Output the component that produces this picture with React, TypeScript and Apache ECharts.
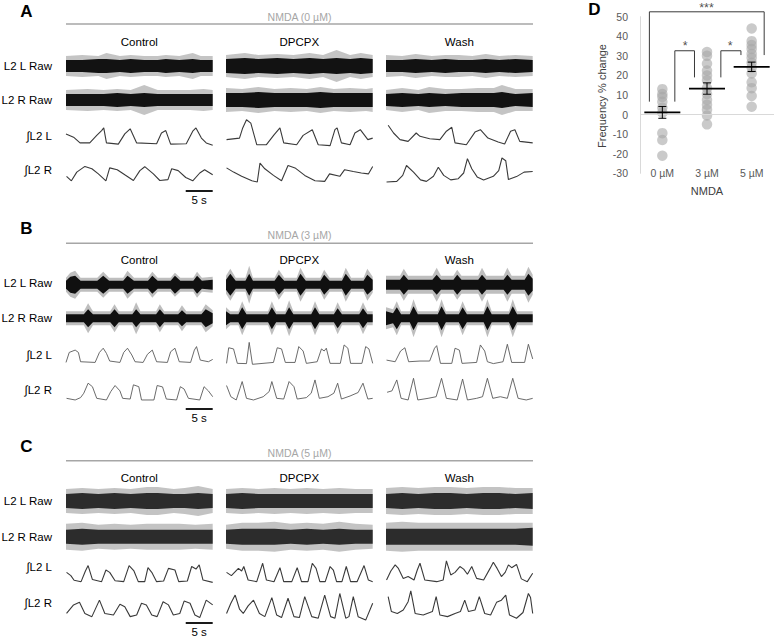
import React, { useEffect, useRef } from 'react';
import * as echarts from 'echarts';

// ---------------- DATA ----------------
const CONDITIONS = ['Control', 'DPCPX', 'Wash'];
const ROW_LABELS = ['L2 L Raw', 'L2 R Raw', '∫L2 L', '∫L2 R'];
const NMDA_TITLES = ['NMDA (0 µM)', 'NMDA (3 µM)', 'NMDA (5 µM)'];
const PANEL_LETTERS = ['A', 'B', 'C'];
const TRACE_SECONDS = 27.2;
const SCALE_BAR_SECONDS = 5;
const SCALE_BAR_LABEL = '5 s';

// Raw envelopes: [time s, core half-amplitude, spike half-amplitude] (a.u.)
const A_CTRL_RL = [[0,6,10],[3,6,11],[6,7,10],[7.5,7,13],[10,6,10],[12,7,11],[14.5,6,10],[17,6,10],[18.5,7,11],[21,6,10],[23.5,7,13],[25,6,10],[27.2,6,10]];
const A_DPCPX_RL = [[0,7,11],[3.5,8,13],[6,7,11],[9.5,8,12],[12.5,7,11],[15.5,8,13],[18,7,11],[20.5,8,16],[23,7,11],[25,8,13],[27.2,7,11]];
const A_WASH_RL = [[0,6,11],[3,6,10],[5.5,7,12],[8.5,6,10],[11,7,11],[13.5,6,11],[16,6,10],[18.5,7,12],[21,6,10],[24,7,11],[27.2,6,10]];
const A_CTRL_RR = [[0,6,10],[4,6,11],[7,6,10],[9.5,7,11],[12,6,10],[14.5,7,15],[17,6,10],[20,6,10],[23,6,10],[25.5,6,11],[27.2,6,10]];
const A_DPCPX_RR = [[0,7,12],[3,7,11],[6,8,13],[9,7,11],[12,7,12],[15,7,11],[17.5,8,13],[20,7,11],[23,7,12],[26,7,11],[27.2,7,12]];
const A_WASH_RR = [[0,6,10],[3,7,12],[6,6,10],[8,7,13],[11,6,11],[14,7,11],[17,7,12],[20,7,12],[21.5,8,15],[24,6,11],[27.2,7,11]];

const B_CTRL_RL = [[0,4,7],[0.8,8,12],[1.7,9,14],[2.7,4,7],[5.8,4,7],[6.9,9,13],[8,4,7],[10.6,4,7],[11.4,9,14],[12.6,4,7],[15.2,4,7],[16,9,13],[17,4,7],[19.4,4,7],[20.2,9,12],[21.2,4,7],[23.6,4,7],[24.3,9,13],[25.2,4,7],[27.2,5,8]];
const B_DPCPX_RL = [[0,5,9],[0.8,11,16],[1.8,4,7],[3.6,4,7],[4.3,11,19],[5,4,7],[9,4,7],[9.8,10,15],[10.8,4,7],[13.1,4,7],[13.8,11,17],[14.8,4,7],[17.5,4,7],[18.2,10,15],[19.2,4,7],[21.5,4,7],[22.2,11,17],[23.2,4,7],[25.5,4,7],[26.2,10,16],[27.2,5,8]];
const B_WASH_RL = [[0,5,9],[2.6,5,9],[3.3,10,16],[4.1,5,9],[8.6,5,9],[9.4,10,17],[10.2,5,9],[12.5,5,9],[13.2,10,15],[14,5,9],[17.1,5,9],[17.8,10,17],[18.6,5,9],[21.8,5,9],[22.5,10,17],[23.3,5,9],[25.7,5,9],[26.4,11,18],[27.2,6,10]];
const B_CTRL_RR = [[0,4,7],[3.3,4,7],[4.1,9,15],[5,4,7],[8.2,4,7],[9,9,14],[9.8,4,7],[12.3,4,7],[13,9,16],[13.8,4,7],[16.7,4,7],[17.4,9,14],[18.2,4,7],[20.8,4,7],[21.5,8,13],[22.3,4,7],[25.1,4,7],[25.9,9,14],[27.2,5,8]];
const B_DPCPX_RR = [[0,7,11],[0.8,4,7],[2.3,4,7],[3,11,17],[3.8,4,7],[7.8,4,7],[8.5,11,17],[9.3,4,7],[11,4,7],[11.7,11,18],[12.5,4,7],[15.8,4,7],[16.5,11,17],[17.3,4,7],[20,4,7],[20.7,10,16],[21.5,4,7],[24.7,4,7],[25.4,10,16],[26.2,4,7],[27.2,4,7]];
const B_WASH_RR = [[0,7,11],[1.3,5,9],[2,11,17],[2.8,4,7],[4.4,4,7],[5.1,12,19],[5.9,4,7],[9.6,4,7],[10.3,12,19],[11.1,4,7],[13.5,4,7],[14.2,11,17],[15,4,7],[18.1,4,7],[18.8,12,19],[19.6,4,7],[22.8,4,7],[23.5,12,19],[24.3,4,7],[27.2,4,7]];

const C_CTRL_RL = [[0,7,12],[3,8,13],[6,7,12],[9,8,13],[12,7,12],[15,8,14],[17,8,14],[20,7,12],[22,7,13],[24.5,8,15],[27.2,7,12]];
const C_DPCPX_RL = [[0,7,12],[3,8,13],[6,7,12],[9,7,13],[12,7,12],[15,7,13],[18,7,12],[21,7,13],[24,7,12],[27.2,7,12]];
const C_WASH_RL = [[0,7,13],[3,8,14],[6,7,13],[9,8,14],[12,8,14],[15,7,13],[18,8,14],[21,8,14],[24,7,13],[27.2,8,13]];
const C_CTRL_RR = [[0,7,13],[3,8,14],[6,7,12],[9,7,13],[12,7,12],[15,7,13],[18,7,13],[21,7,13],[24,7,12],[27.2,7,13]];
const C_DPCPX_RR = [[0,7,12],[3,8,14],[6,8,14],[9,8,15],[12,7,13],[15,8,14],[18,7,13],[21,8,15],[24,7,13],[27.2,7,12]];
const C_WASH_RR = [[0,8,14],[3,8,15],[6,8,14],[9,8,14],[12,8,14],[15,8,14],[18,8,14],[21,8,14],[24,8,14],[27.2,9,14]];

// Integrated traces: [time s, amplitude a.u. 0-100]
const A_CTRL_IL = [[0,47],[1.4,36],[2.6,17],[4.4,17],[5.7,42],[6.6,58],[7,67],[7.5,17],[9.7,13],[10.9,47],[11.9,64],[13.1,17],[16.8,14],[17.7,50],[18.5,58],[19.4,13],[22.3,14],[23.5,56],[24.1,67],[25.1,33],[26,17],[27.2,9]];
const A_DPCPX_IL = [[0.1,28],[2.5,33],[3.1,67],[3.8,94],[4.6,83],[5.7,11],[7.5,11],[8.9,44],[10,67],[10.7,17],[13.1,11],[14.3,42],[16,61],[17.1,11],[19.3,8],[20.2,61],[20.6,67],[21.4,17],[23,11],[23.9,50],[24.9,61],[26.3,28],[27.2,33]];
const A_WASH_IL = [[0.4,76],[1.4,50],[2.6,28],[4.1,22],[5.6,50],[6.3,39],[8.1,31],[10,28],[11.2,56],[12.2,69],[12.8,17],[14.9,11],[16.5,53],[17.5,61],[18.9,33],[20.8,20],[22,13],[23.1,56],[23.9,61],[24.8,22],[27.2,17]];
const A_CTRL_IR = [[0.1,28],[1,13],[2,42],[3.5,61],[4.8,53],[6,36],[7.4,13],[8.1,56],[9.5,50],[10.9,33],[12.5,14],[13.7,47],[14.6,60],[16.2,36],[17.4,14],[18.9,17],[19.6,53],[20.8,47],[22.2,24],[23.5,13],[24.8,39],[25.7,50],[27.2,33]];
const A_DPCPX_IR = [[0.1,56],[1.4,42],[2.9,28],[4.8,13],[5.8,9],[6.3,72],[7.2,53],[8.8,31],[10.3,13],[11.5,64],[12.8,56],[14.6,31],[16.5,13],[18.3,11],[19.2,36],[21.1,28],[22,50],[23.6,44],[25.1,39],[26.4,36],[27.2,61]];
const A_WASH_IR = [[0.1,9],[2,11],[3.1,31],[3.8,64],[5.1,42],[6.4,16],[7.5,11],[8.8,28],[9.7,58],[10.7,31],[12,16],[13.4,20],[14.4,39],[15.1,87],[15.9,53],[16.9,26],[18.1,16],[19.9,28],[20.9,47],[21.5,89],[22.2,80],[22.7,17],[24.2,27],[25.6,42],[27.2,44]];

const B_CTRL_IL = [[0,11],[0.6,54],[1.7,64],[2.3,54],[2.7,14],[5.4,11],[6.2,54],[6.9,72],[7.5,50],[8.1,17],[10,11],[10.7,54],[11.4,72],[12.2,43],[12.8,14],[14.3,11],[15.1,46],[16,64],[16.8,14],[18.8,11],[19.4,57],[20.2,72],[21,14],[23.1,11],[23.8,64],[24.2,79],[24.9,21],[26.4,14],[27.2,24]];
const B_DPCPX_IL = [[0.1,7],[0.5,74],[1.4,69],[2.1,7],[3.8,6],[4.3,97],[4.9,3],[8.8,11],[9.5,74],[10.3,69],[11,11],[12.8,11],[13.5,79],[14.3,60],[14.9,7],[16.9,14],[17.7,69],[18.2,60],[18.6,72],[19.3,7],[21.2,7],[21.9,86],[22.6,72],[23.1,7],[25.2,7],[25.9,79],[26.5,69],[27.2,7]];
const B_WASH_IL = [[0.1,21],[1.7,14],[2.7,60],[3.5,74],[4.2,14],[6.3,17],[8.1,17],[9,72],[9.4,83],[10.1,7],[12.2,7],[12.8,72],[13.6,64],[14.1,7],[16.8,11],[17.5,86],[18.3,60],[18.8,14],[19.9,6],[21.7,14],[22.5,89],[23.3,11],[25.7,11],[26.4,89],[27.2,26]];
const B_CTRL_IR = [[0.1,14],[1.7,7],[2.7,17],[3.3,36],[4.1,79],[4.9,64],[5.7,14],[7.5,7],[8.3,43],[9.1,69],[10,46],[10.5,14],[11.9,11],[12.5,72],[13.5,64],[14,7],[16.3,7],[16.9,69],[17.9,63],[18.6,11],[20.5,7],[21.2,64],[21.9,54],[22.7,14],[24.8,7],[25.6,64],[26.4,46],[27.2,21]];
const B_DPCPX_IR = [[0.1,69],[0.9,21],[1.9,7],[2.6,57],[3,86],[3.8,14],[5.1,7],[6.9,21],[8,43],[8.5,86],[9.4,14],[10.7,11],[11.7,86],[12.6,64],[13.2,11],[14.9,17],[15.8,36],[16.5,93],[17.3,14],[18.9,21],[20,36],[20.7,79],[21.4,11],[23,24],[24.5,39],[25.4,79],[26.3,11],[27.2,14]];
const B_WASH_IR = [[0.2,40],[1.1,46],[2,93],[2.8,14],[4.1,7],[5.1,100],[5.9,7],[7.8,14],[9.3,21],[10.3,100],[11.2,14],[13.2,7],[14.2,97],[15.1,7],[16.8,14],[17.9,21],[18.8,100],[19.8,14],[21.2,21],[22.5,14],[23.5,100],[24.5,14],[26,7],[27.2,14]];

const C_CTRL_IL = [[0.1,47],[0.9,33],[1.5,13],[2.8,7],[3.6,53],[4.1,76],[4.9,16],[6.6,7],[7.4,57],[8.1,47],[9.1,11],[10.7,7],[11.7,76],[12.6,53],[13.4,7],[14.6,7],[15.2,67],[15.9,47],[16.8,7],[18.1,10],[19,64],[20.2,57],[20.9,7],[22.5,10],[23.3,72],[24.1,61],[24.7,79],[25.4,14],[27.2,4]];
const C_DPCPX_IL = [[0.1,47],[1,33],[2.3,64],[2.9,53],[3.3,72],[4.1,14],[5.7,7],[6.8,86],[7.5,14],[8.9,7],[10,67],[10.7,7],[12.2,7],[13.2,67],[14,7],[15.2,7],[16,86],[16.7,64],[17.4,7],[18.4,7],[19.3,72],[19.9,57],[20.5,7],[21.5,7],[22.3,72],[23.1,7],[24.3,7],[25.6,76],[26.4,14],[27.2,7]];
const C_WASH_IL = [[0.1,14],[0.9,53],[1.7,79],[2.3,64],[3.2,21],[4.1,29],[5.2,14],[5.8,57],[6.3,86],[7.2,14],[9.4,7],[10.6,14],[11.2,96],[12,36],[12.8,47],[13.7,72],[14.4,61],[15.1,39],[15.9,72],[16.8,21],[18.1,14],[19.3,64],[19.9,90],[20.6,64],[21.4,29],[22.1,47],[22.7,79],[23.3,67],[24.2,81],[25.1,19],[26.2,7],[27.2,43]];
const C_CTRL_IR = [[0.1,26],[1.4,53],[2.5,61],[3.5,26],[4.8,16],[6.2,68],[7.2,26],[8.8,21],[10,55],[10.9,47],[11.9,16],[13.1,21],[14,58],[14.9,53],[15.9,21],[16.9,16],[18,63],[19,53],[19.9,21],[21.1,26],[21.9,65],[23,58],[23.9,21],[24.8,13],[26,68],[27.2,53]];
const C_DPCPX_IR = [[0.1,26],[0.9,58],[1.7,84],[2.5,40],[3.2,26],[4.1,50],[5.1,68],[6.2,26],[7.2,16],[8.5,76],[9.4,21],[10.3,13],[11.5,74],[12.6,16],[13.6,13],[14.6,79],[15.9,16],[17.1,11],[18.3,84],[19.4,16],[20.2,11],[21.1,89],[22.2,11],[22.8,16],[23.6,79],[24.5,16],[25.9,5],[27.2,58]];
const C_WASH_IR = [[0.4,79],[1,32],[2.1,26],[3.2,37],[4.1,63],[4.6,97],[5.4,26],[6.9,21],[8.6,32],[9.3,79],[10,21],[11.4,16],[12.8,26],[13.8,32],[14.6,68],[15.3,32],[16.5,37],[17.3,79],[18.3,26],[19.4,21],[20.5,61],[21.4,68],[22.2,84],[22.9,21],[24.2,11],[25.4,29],[26.4,89],[26.8,76],[27.2,26]];

// Panel D: frequency % change
const DOSES = ['0 µM', '3 µM', '5 µM'];
const FREQ_0UM = [13, 10.5, 9, 6.5, 3.5, 1, -9.5, -13, -21];
const FREQ_3UM = [32, 30, 26, 22.5, 20, 17.5, 13.5, 10.5, 7.5, 5, 2.5, -0.5, -5];
const FREQ_5UM = [44, 37.5, 35.5, 33.5, 31, 29, 26.5, 24, 21, 16.5, 13.5, 9.5, 4];
const FREQ_MEAN = [1.1, 13.3, 24.4];
const FREQ_SEM = [3, 2.9, 2.4];
const SIG_LABELS = ['***', '*', '*'];

// ---------------- LAYOUT ----------------
const FONT = 'Liberation Sans, Arial, Helvetica, sans-serif';
const COL_X = [66, 226, 386];
const COL_W = 146.7;
const RAW_H = 40;
const PANELS = [
  { letterY: 11, titleY: 16.7, lineY: 24, condY: 42, raw: [66, 100], intL: [118, 30], intR: [154.7, 30], labelY: [66, 100, 136, 170], barY: 191, barTextY: 200,
    raws: [[A_CTRL_RL, A_CTRL_RR], [A_DPCPX_RL, A_DPCPX_RR], [A_WASH_RL, A_WASH_RR]],
    ints: [[A_CTRL_IL, A_CTRL_IR], [A_DPCPX_IL, A_DPCPX_IR], [A_WASH_IL, A_WASH_IR]],
    core: '#121212', outer: 'rgba(70,70,70,0.32)', intColor: '#3a3a3a', intW: 1.1 },
  { letterY: 228.5, titleY: 235, lineY: 243.3, condY: 260, raw: [284.8, 318.3], intL: [341.7, 23.3], intR: [378.3, 23.3], labelY: [283.3, 318.3, 355, 390], barY: 409, barTextY: 417.5,
    raws: [[B_CTRL_RL, B_CTRL_RR], [B_DPCPX_RL, B_DPCPX_RR], [B_WASH_RL, B_WASH_RR]],
    ints: [[B_CTRL_IL, B_CTRL_IR], [B_DPCPX_IL, B_DPCPX_IR], [B_WASH_IL, B_WASH_IR]],
    core: '#101010', outer: 'rgba(70,70,70,0.35)', intColor: '#5a5a5a', intW: 0.9 },
  { letterY: 446.5, titleY: 453.3, lineY: 460.7, condY: 478.3, raw: [501, 536.7], intL: [560, 23.3], intR: [590, 31.7], labelY: [500.7, 536.7, 566.7, 603.3], barY: 623, barTextY: 632,
    raws: [[C_CTRL_RL, C_CTRL_RR], [C_DPCPX_RL, C_DPCPX_RR], [C_WASH_RL, C_WASH_RR]],
    ints: [[C_CTRL_IL, C_CTRL_IR], [C_DPCPX_IL, C_DPCPX_IR], [C_WASH_IL, C_WASH_IR]],
    core: '#2c2c2c', outer: 'rgba(90,90,90,0.36)', intColor: '#3a3a3a', intW: 1.1 },
];
const D_GRID = { left: 640, top: 16.7, width: 134, height: 156.6 };
// bracket paths in (category position, value) space
const BRACKETS = [
  [[-0.29, 6.6], [-0.29, 52.5], [2.28, 52.5], [2.28, 30.4]],
  [[0.28, 6.6], [0.28, 32.6], [0.72, 32.6], [0.72, 19]],
  [[1.31, 19], [1.31, 32.6], [1.76, 32.6], [1.76, 30.4]],
];
const SIG_POS = [[0.99, 54.5], [0.51, 35], [1.52, 35]];

function buildOption() {
  const grid: any[] = [];
  const xAxis: any[] = [];
  const yAxis: any[] = [];
  const series: any[] = [];
  const graphic: any[] = [];

  const addGrid = (left: number, top: number, width: number, height: number, ymin: number, ymax: number) => {
    const idx = grid.length;
    grid.push({ left, top, width, height });
    xAxis.push({ type: 'value', gridIndex: idx, min: 0, max: TRACE_SECONDS, show: false });
    yAxis.push({ type: 'value', gridIndex: idx, min: ymin, max: ymax, show: false });
    return idx;
  };
  // symmetric envelope band drawn as one polygon through the axes
  const addBand = (idx: number, data: number[][], key: number, color: string, z: number) => {
    series.push({
      type: 'custom', xAxisIndex: idx, yAxisIndex: idx, silent: true, z, data: [[0, 0]],
      renderItem: (params: any, api: any) => {
        const up = data.map((d) => api.coord([d[0], d[key]]));
        const dn = data.slice().reverse().map((d) => api.coord([d[0], -d[key]]));
        return { type: 'polygon', shape: { points: up.concat(dn) }, style: { fill: color } };
      },
    });
  };
  const txt = (x: number, y: number, text: string, opts: any = {}) => {
    graphic.push({
      type: 'text', x, y, silent: true, rotation: opts.rotation || 0,
      style: {
        text, fontFamily: FONT, fontSize: opts.fontSize || 11.5, fontWeight: opts.fontWeight || 'normal',
        fill: opts.fill || '#000', align: opts.align || 'center', verticalAlign: 'middle',
      },
    });
  };

  PANELS.forEach((P, p) => {
    txt(26.5, P.letterY, PANEL_LETTERS[p], { fontSize: 17, fontWeight: 'bold', align: 'center' });
    txt(299.5, P.titleY, NMDA_TITLES[p], { fontSize: 10.5, fill: '#a6a6a6' });
    graphic.push({ type: 'line', silent: true, shape: { x1: 66, y1: P.lineY, x2: 533, y2: P.lineY }, style: { stroke: '#a6a6a6', lineWidth: 1.6 } });
    ROW_LABELS.forEach((lab, r) => txt(52, P.labelY[r], lab, { align: 'right' }));
    CONDITIONS.forEach((cond, c) => {
      const x = COL_X[c];
      txt(x + COL_W / 2, P.condY, cond);
      for (let r = 0; r < 2; r++) {
        const g = addGrid(x, P.raw[r] - RAW_H / 2, COL_W, RAW_H, -RAW_H / 2, RAW_H / 2);
        addBand(g, P.raws[c][r], 2, P.outer, 2);
        addBand(g, P.raws[c][r], 1, P.core, 3);
      }
      [P.intL, P.intR].forEach((box, r) => {
        const g = addGrid(x, box[0], COL_W, box[1], 0, 100);
        series.push({
          type: 'line', xAxisIndex: g, yAxisIndex: g, silent: true, symbol: 'none',
          data: P.ints[c][r], lineStyle: { color: P.intColor, width: P.intW },
        });
      });
    });
    const gb = addGrid(COL_X[0], P.barY - 2, COL_W, 4, -1, 1);
    series.push({
      type: 'line', xAxisIndex: gb, yAxisIndex: gb, silent: true, symbol: 'none',
      data: [[TRACE_SECONDS - SCALE_BAR_SECONDS, 0], [TRACE_SECONDS, 0]],
      lineStyle: { color: '#000', width: 1.8 },
    });
    txt(COL_X[0] + COL_W - 13.5, P.barTextY, SCALE_BAR_LABEL);
  });

  // ---- Panel D ----
  const d = grid.length;
  grid.push({ ...D_GRID });
  xAxis.push({
    type: 'category', gridIndex: d, data: DOSES, offset: -6,
    axisLine: { show: false, onZero: false }, axisTick: { show: false }, splitLine: { show: false },
    axisLabel: { color: '#595959', fontSize: 10.5, margin: 0, fontFamily: FONT },
  });
  yAxis.push({
    type: 'value', gridIndex: d, min: -30, max: 50, interval: 10,
    axisLine: { show: true, onZero: false, lineStyle: { color: '#d9d9d9', width: 1 } }, axisTick: { show: false },
    splitLine: { show: false },
    axisLabel: { color: '#595959', fontSize: 10.5, margin: 12, fontFamily: FONT },
  });
  const dv = xAxis.length;
  xAxis.push({ type: 'value', gridIndex: d, min: -0.5, max: 2.5, show: false, axisLine: { onZero: false } });

  const pts: number[][] = [];
  [FREQ_0UM, FREQ_3UM, FREQ_5UM].forEach((arr, i) => arr.forEach((v) => pts.push([i, v])));
  series.push({
    type: 'scatter', xAxisIndex: d, yAxisIndex: d, silent: true, symbolSize: 10.5, data: pts, z: 3,
    itemStyle: { color: '#a6a6a6', opacity: 0.6 },
    markLine: {
      silent: true, symbol: 'none', label: { show: false },
      lineStyle: { color: '#d9d9d9', width: 1.2, type: 'solid' }, data: [{ yAxis: 0 }],
    },
  });
  series.push({
    type: 'custom', xAxisIndex: d, yAxisIndex: d, silent: true, z: 6,
    data: DOSES.map((_, i) => [i, FREQ_MEAN[i], FREQ_SEM[i]]),
    renderItem: (params: any, api: any) => {
      const i = api.value(0), m = api.value(1), s = api.value(2);
      const c = api.coord([i, m]);
      const hi = api.coord([i, m + s]);
      const lo = api.coord([i, m - s]);
      const st = { stroke: '#000', lineWidth: 1 };
      return {
        type: 'group',
        children: [
          { type: 'line', shape: { x1: c[0] - 18, y1: c[1], x2: c[0] + 18, y2: c[1] }, style: { stroke: '#000', lineWidth: 1.8 } },
          { type: 'line', shape: { x1: c[0], y1: hi[1], x2: c[0], y2: lo[1] }, style: st },
          { type: 'line', shape: { x1: c[0] - 4, y1: hi[1], x2: c[0] + 4, y2: hi[1] }, style: st },
          { type: 'line', shape: { x1: c[0] - 4, y1: lo[1], x2: c[0] + 4, y2: lo[1] }, style: st },
        ],
      };
    },
  });
  BRACKETS.forEach((b) => {
    series.push({
      type: 'line', xAxisIndex: dv, yAxisIndex: d, silent: true, symbol: 'none', clip: false, z: 4,
      data: b, lineStyle: { color: '#3a3a3a', width: 1 },
    });
  });
  series.push({
    type: 'scatter', xAxisIndex: dv, yAxisIndex: d, silent: true, clip: false, symbolSize: 1,
    itemStyle: { color: 'rgba(0,0,0,0)' },
    data: SIG_POS.map((p, i) => ({ value: p, name: SIG_LABELS[i] })),
    label: { show: true, position: 'inside', formatter: '{b}', fontSize: 12.5, color: '#222', fontFamily: FONT },
  });
  txt(594.5, 9.5, 'D', { fontSize: 17, fontWeight: 'bold' });
  txt(602, 96, 'Frequency % change', { fontSize: 11, fill: '#404040', rotation: Math.PI / 2 });
  txt(707, 191, 'NMDA', { fontSize: 11, fill: '#404040' });

  return { animation: false, backgroundColor: '#ffffff', grid, xAxis, yAxis, series, graphic };
}

export default function App() {
  const ref = useRef<HTMLDivElement>(null);
  useEffect(() => {
    if (!ref.current) return;
    const chart = echarts.init(ref.current, undefined, { renderer: 'svg' });
    chart.setOption(buildOption() as any);
    return () => chart.dispose();
  }, []);
  return <div ref={ref} style={{ position: 'absolute', left: 0, top: 0, width: 778, height: 642 }} />;
}
